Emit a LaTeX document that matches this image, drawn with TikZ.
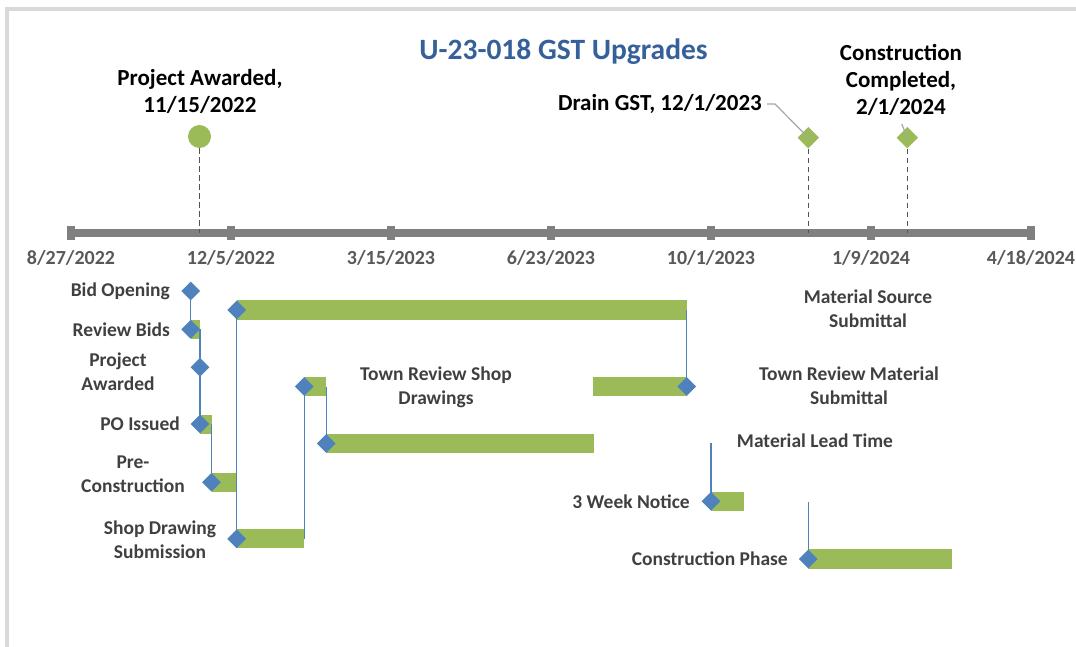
\documentclass[tikz,border=0pt]{standalone}
\usepackage{fontspec}
\setmainfont{Carlito}
\usetikzlibrary{shapes.geometric,backgrounds}
\definecolor{bargreen}{HTML}{9BBB59}
\definecolor{diablue}{HTML}{4F81BD}
\definecolor{axisgray}{HTML}{808080}
\definecolor{frame}{HTML}{D9D9D9}
\definecolor{datetext}{HTML}{595959}
\definecolor{ganttext}{HTML}{404040}
\definecolor{titleblue}{HTML}{35609A}
\definecolor{leader}{HTML}{A6A6A6}
\tikzset{
  gdia/.style={diamond, fill=diablue, inner sep=0pt, minimum width=19pt, minimum height=19pt},
  mdia/.style={diamond, fill=bargreen, inner sep=0pt, minimum width=21.5pt, minimum height=21.5pt},
  mcirc/.style={circle, fill=bargreen, inner sep=0pt, minimum size=23pt},
  bar/.style={fill=bargreen},
  conn/.style={draw=diablue, line width=1.2pt},
  drop/.style={draw=ganttext!90, line width=1.2pt, dash pattern=on 5.5pt off 3.5pt},
  leaderline/.style={draw=leader, line width=1.2pt},
  tick/.style={fill=axisgray, inner sep=0pt, minimum width=8pt, minimum height=13pt},
  glabel/.style={font=\fontsize{19.5}{24}\selectfont\bfseries, text=ganttext, inner sep=0pt, align=center},
  mlabel/.style={font=\fontsize{23}{27}\selectfont\bfseries, text=black, inner sep=0pt, align=center},
  dlabel/.style={font=\fontsize{20}{24}\selectfont\bfseries, text=datetext, inner sep=0pt},
  titlelabel/.style={font=\fontsize{29.5}{34}\selectfont\bfseries, text=titleblue, inner sep=0pt}
}
\begin{document}
\begin{tikzpicture}[x=1pt,y=-1pt]
\useasboundingbox (0,0) rectangle (1076,647);
% frame
\draw[frame, line width=4pt] (7.2,647) -- (7.2,8.7) -- (1076,8.7);
% title
\node[titlelabel] (title) at (563.5,52) {U-23-018 GST Upgrades};
% axis
\foreach \i/\d in {0/8\slash 27\slash 2022,1/12\slash 5\slash 2022,2/3\slash 15\slash 2023,3/6\slash 23\slash 2023,4/10\slash 1\slash 2023,5/1\slash 9\slash 2024,6/4\slash 18\slash 2024}{
  \node[tick] (t\i) at (71+160*\i,233) {};
  \node[dlabel] (dl\i) at (71+160*\i,258) {\d};
}
\begin{pgfonlayer}{background}
\draw[axisgray, line width=7pt] (t0.center) -- (t6.center);
\end{pgfonlayer}
% milestones
\node[mcirc] (m1) at (199.5,136.5) {};
\coordinate (a1) at (199.5,233);
\draw[drop] (m1.south) -- (a1);
\node[mlabel] (ml1) at (200,91.5) {Project Awarded,\\11/15/2022};
\node[mdia] (m2) at (808.3,137.7) {};
\coordinate (a2) at (808.3,233);
\draw[drop] (m2.south) -- (a2);
\node[mlabel, anchor=east] (ml2) at (762,104) {Drain GST, 12/1/2023};
\draw[leaderline] (767,104) -- (775,104) -- (m2.center);
\node[mdia] (m3) at (907.3,137.7) {};
\coordinate (a3) at (907.3,233);
\draw[drop] (m3.south) -- (a3);
\node[mlabel] (ml3) at (901,79.5) {Construction\\Completed,\\2/1/2024};
\draw[leaderline] (901.7,124) -- (m3.center);
% gantt diamonds
\node[gdia] (d1) at (190.7,291) {};
\node[gdia] (d2) at (190.7,329.3) {};
\node[gdia] (d3) at (200,367.3) {};
\node[gdia] (d4) at (200,424) {};
\node[gdia] (d5) at (211.5,482.3) {};
\node[gdia] (d6) at (236.7,538.8) {};
\node[gdia] (d7) at (236.7,310) {};
\node[gdia] (d8) at (304.3,386.5) {};
\node[gdia] (d9) at (326.3,443.5) {};
\node[gdia] (d10) at (686.7,386.5) {};
\node[gdia] (d11) at (711,501.3) {};
\node[gdia] (d12) at (808.3,559) {};
\begin{pgfonlayer}{background}
% bars
\fill[bar] (190.7,319.6) rectangle (200,339);
\fill[bar] (200,414.6) rectangle (211.5,434);
\fill[bar] (211.5,472.6) rectangle (236.7,492);
\fill[bar] (236.7,529) rectangle (304.3,548.4);
\fill[bar] (236.7,300.3) rectangle (686.7,319.7);
\fill[bar] (304.3,376.8) rectangle (326.3,396.2);
\fill[bar] (326.3,433.8) rectangle (594.3,453.2);
\fill[bar] (592.7,376.8) rectangle (686.7,396.2);
\fill[bar] (711,491.6) rectangle (744.3,511);
\fill[bar] (808.3,549.3) rectangle (952.3,568.7);
% connectors
\coordinate (e2) at (200,329.3);
\coordinate (e4) at (211.5,424);
\coordinate (e6) at (304.3,538.8);
\coordinate (e8) at (326.3,386.5);
\coordinate (e7) at (686.7,310);
\coordinate (e9) at (711,443.3);
\coordinate (e11) at (808.3,501.5);
\draw[conn] (d1.center) -- (d2.center);
\draw[conn] (e2) -- (d3.center) -- (d4.center);
\draw[conn] (e4) -- (d5.center);
\draw[conn] (d7.center) -- (d6.center);
\draw[conn] (e6) -- (d8.center);
\draw[conn] (e8) -- (d9.center);
\draw[conn] (e7) -- (d10.center);
\draw[conn] (e9) -- (d11.center);
\draw[conn] (e11) -- (d12.center);
\end{pgfonlayer}
% gantt labels
\node[glabel, anchor=east] (l1) at (170,291) {Bid Opening};
\node[glabel, anchor=east] (l2) at (170,329.3) {Review Bids};
\node[glabel] (l3) at (118,371.5) {Project\\Awarded};
\node[glabel, anchor=east] (l4) at (180,424) {PO Issued};
\node[glabel] (l5) at (133,474) {Pre-\\Construction};
\node[glabel] (l6) at (160,540) {Shop Drawing\\Submission};
\node[glabel] (l7) at (868,309) {Material Source\\Submittal};
\node[glabel] (l8) at (436,387.5) {Town Review Shop\\Drawings};
\node[glabel] (l10) at (849,385.5) {Town Review Material\\Submittal};
\node[glabel] (l9) at (815,441) {Material Lead Time};
\node[glabel, anchor=east] (l11) at (690,501.3) {3 Week Notice};
\node[glabel, anchor=east] (l12) at (788,559) {Construction Phase};
\end{tikzpicture}
\end{document}
